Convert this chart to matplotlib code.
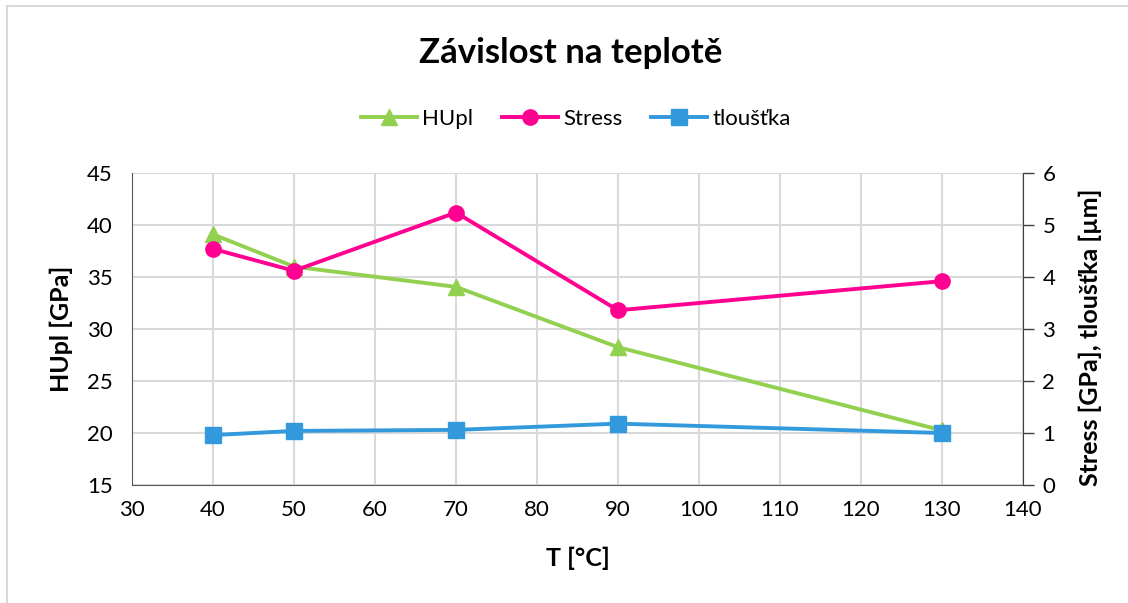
import matplotlib.pyplot as plt
from matplotlib.lines import Line2D

plt.rcParams['font.family'] = ['Lato', 'DejaVu Sans']

teplota = [40, 50, 70, 90, 130]
hupl = [39.1, 36.0, 34.05, 28.25, 20.25]
stress = [4.54, 4.12, 5.24, 3.36, 3.92]
tloustka = [0.96, 1.04, 1.06, 1.18, 1.00]

green = '#92d050'
pink = '#ff0090'
blue = '#3399dd'
grid_c = '#d9d9d9'

W, H = 1128, 603
fig = plt.figure(figsize=(W / 100, H / 100), dpi=100)
ax = fig.add_axes([132/W, 1 - 485/H, (1023-132)/W, (485-173)/H])
ax2 = ax.twinx()

# chart border (left and top edge visible)
fig.add_artist(Line2D([7/W, 7/W], [0, 1 - 6/H], color='#d9d9d9', lw=1.5))
fig.add_artist(Line2D([7/W, 1], [1 - 6/H, 1 - 6/H], color='#d9d9d9', lw=1.5))

ax.plot(teplota, hupl, color=green, lw=2.8, marker='^', ms=11, zorder=3)
ax2.plot(teplota, stress, color=pink, lw=2.8, marker='o', ms=11, zorder=3)
ax2.plot(teplota, tloustka, color=blue, lw=2.8, marker='s', ms=11, zorder=3)

ax.set_xlim(30, 140)
ax.set_ylim(15, 45)
ax2.set_ylim(0, 6)
ax.set_xticks(range(30, 141, 10))
ax.set_yticks(range(15, 46, 5))
ax2.set_yticks(range(0, 7))

ax.grid(True, color=grid_c, lw=1.5)
ax.set_axisbelow(True)
for a in (ax, ax2):
    for s in a.spines.values():
        s.set_visible(False)
ax.spines['left'].set_visible(True)
ax.spines['bottom'].set_visible(True)
ax2.spines['right'].set_visible(True)
ax.spines['left'].set_color('#595959')
ax.spines['bottom'].set_color('#595959')
ax2.spines['right'].set_color('#404040')

ax.tick_params(axis='both', length=0, labelsize=16, colors='#000000', pad=11)
ax.tick_params(axis='y', pad=14)
ax2.tick_params(axis='y', length=8, width=1, color='#404040', labelsize=16, pad=6)

fig.text(578/W, 1 - 558/H, 'T [°C]', ha='center', va='center',
         fontsize=18, fontweight='bold')
fig.text(61/W, 1 - 329/H, 'HUpl [GPa]', ha='center', va='center',
         rotation=90, fontsize=18, fontweight='bold')
fig.text(1090/W, 1 - 337/H, 'Stress [GPa], tloušťka [µm]', ha='center', va='center',
         rotation=90, fontsize=18, fontweight='bold')

fig.text(571/W, 1 - 53/H, 'Závislost na teplotě', ha='center', va='center',
         fontsize=25, fontweight='bold')

handles = [
    Line2D([], [], color=green, lw=2.8, marker='^', ms=11),
    Line2D([], [], color=pink, lw=2.8, marker='o', ms=11),
    Line2D([], [], color=blue, lw=2.8, marker='s', ms=11),
]
fig.legend(handles, ['HUpl', 'Stress', 'tloušťka'], loc='center',
           bbox_to_anchor=(576/W, 1 - 119/H), ncol=3, frameon=False,
           fontsize=16, handlelength=2.5, columnspacing=1.3, handletextpad=0.25)

fig.savefig('out.png', dpi=100)
